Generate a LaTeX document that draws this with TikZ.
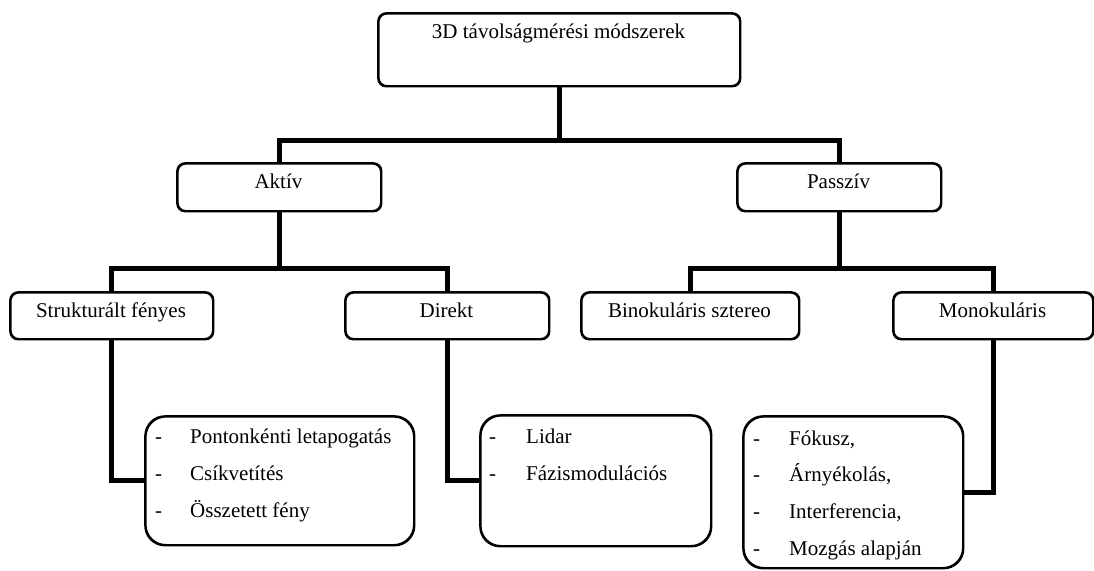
\documentclass[tikz,border=0pt]{standalone}
\usepackage{fontspec}
\setmainfont{Liberation Serif}
\begin{document}
\begin{tikzpicture}[x=1pt,y=-1pt,
  box/.style={draw, fill=white, line width=1.6pt, rounded corners=8pt, inner sep=0pt, anchor=north west},
  listbox/.style={draw, fill=white, line width=1.6pt, rounded corners=20pt, inner sep=0pt, anchor=north west},
  conn/.style={line width=5pt},
  lbl/.style={font=\fontsize{21}{25}\selectfont, inner sep=0pt, anchor=base},
  item/.style={font=\fontsize{21}{25}\selectfont, inner sep=0pt, anchor=base west},
]
\useasboundingbox (0,0) rectangle (1094,570);
% boxes
\node[box, minimum width=361pt, minimum height=72pt] (top) at (378,13) {};
\node[box, minimum width=203pt, minimum height=47pt] (aktiv) at (177,163) {};
\node[box, minimum width=203pt, minimum height=47pt] (passziv) at (737,163) {};
\node[box, minimum width=202pt, minimum height=46pt] (struct) at (10,292) {};
\node[box, minimum width=203pt, minimum height=46pt] (direkt) at (345,292) {};
\node[box, minimum width=217pt, minimum height=46pt] (binok) at (581,292) {};
\node[box, minimum width=199pt, minimum height=46pt] (monok) at (893,292) {};
\node[listbox, minimum width=268pt, minimum height=128pt] (list1) at (145,416) {};
\node[listbox, minimum width=230pt, minimum height=130pt] (list2) at (480,415) {};
\node[listbox, minimum width=219pt, minimum height=151pt] (list3) at (743,416) {};
% connectors
\coordinate (j0) at (559,140);
\coordinate (lvl2) at (0,268);
\draw[conn] (top.south -| j0) -- (j0);
\draw[conn] (aktiv.north) |- (j0) -| (passziv.north);
\draw[conn] (aktiv.south) -- (aktiv.south |- lvl2);
\draw[conn] (struct.north) |- (aktiv.south |- lvl2) -| (direkt.north);
\draw[conn] (passziv.south) -- (passziv.south |- lvl2);
\draw[conn] (binok.north) |- (passziv.south |- lvl2) -| (monok.north);
\draw[conn] (struct.south) |- (list1.west);
\draw[conn] (direkt.south) |- (list2.west);
\draw[conn] (monok.south) |- (list3.east);
% redraw box outlines on top
\foreach \n in {top,aktiv,passziv,struct,direkt,binok,monok}
  \draw[line width=1.6pt, rounded corners=8pt] (\n.north west) rectangle (\n.south east);
\foreach \n in {list1,list2,list3}
  \draw[line width=1.6pt, rounded corners=20pt] (\n.north west) rectangle (\n.south east);
% labels
\node[lbl] (ttop) at (558.5,38) {3D távolságmérési módszerek};
\node[lbl] (taktiv) at (278.5,188) {Aktív};
\node[lbl] (tpassziv) at (838.5,188) {Passzív};
\node[lbl] (tstruct) at (111,317) {Strukturált fényes};
\node[lbl] (tdirekt) at (446.5,317) {Direkt};
\node[lbl] (tbinok) at (689.5,317) {Binokuláris sztereo};
\node[lbl] (tmonok) at (992.5,317) {Monokuláris};
% list 1
\node[item] (d11) at (155,443) {-};
\node[item] (i11) at (190,443) {Pontonkénti letapogatás};
\node[item] (d12) at (155,480) {-};
\node[item] (i12) at (190,480) {Csíkvetítés};
\node[item] (d13) at (155,517) {-};
\node[item] (i13) at (190,517) {Összetett fény};
% list 2
\node[item] (d21) at (489,443) {-};
\node[item] (i21) at (526,443) {Lidar};
\node[item] (d22) at (489,480) {-};
\node[item] (i22) at (526,480) {Fázismodulációs};
% list 3
\node[item] (d31) at (753,445) {-};
\node[item] (i31) at (789,445) {Fókusz,};
\node[item] (d32) at (753,481) {-};
\node[item] (i32) at (789,481) {Árnyékolás,};
\node[item] (d33) at (753,518) {-};
\node[item] (i33) at (789,518) {Interferencia,};
\node[item] (d34) at (753,555) {-};
\node[item] (i34) at (789,555) {Mozgás alapján};
\end{tikzpicture}
\end{document}
